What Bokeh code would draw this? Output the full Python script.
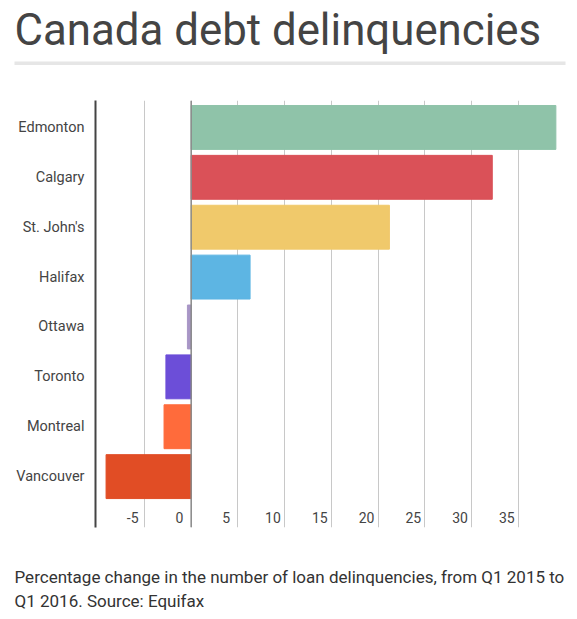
from bokeh.plotting import figure
from bokeh.layouts import column
from bokeh.models import (Range1d, FixedTicker, LinearAxis, Label, BoxAnnotation,
                          ColumnDataSource, Span)
from bokeh.embed import file_html
from bokeh.resources import INLINE

cities = ["Edmonton", "Calgary", "St. John's", "Halifax", "Ottawa", "Toronto", "Montreal", "Vancouver"]
changes = [39.0, 32.2, 21.2, 6.3, -0.4, -2.7, -2.9, -9.1]
colors = ["#8fc3a9", "#da5158", "#f0c96b", "#5db5e3", "#a896c6", "#6c4ed8", "#ff6b3b", "#e14d25"]
tick_values = [-5, 0, 5, 10, 15, 20, 25, 30, 35]
tick_labels = ["-5", "0", "5", "10", "15", "20", "25", "30", "35"]

TITLE = "Canada debt delinquencies"
CAPTION = ["Percentage change in the number of loan delinquencies, from Q1 2015 to",
           "Q1 2016. Source: Equifax"]

FONT = "Roboto"
W = 569


def blank(height):
    f = figure(width=W, height=height, output_backend="svg", toolbar_location=None,
               x_range=Range1d(0, W), y_range=Range1d(height, 0),
               min_border=0, x_axis_location=None, y_axis_location=None)
    f.outline_line_color = None
    f.grid.visible = False
    f.frame_align = False
    return f


# ---- header: title + rule
top = blank(100)
top.add_layout(Label(x=14, y=29.5, text=TITLE, text_font=FONT, text_font_size="43.8px",
                     text_color="#444444", text_baseline="alphabetic"))
top.add_layout(BoxAnnotation(left=14, right=565, top=61, bottom=64.5,
                             fill_color="#e6e6e6", fill_alpha=1, line_color=None))

# ---- main chart
pos = list(range(len(cities)))
src = ColumnDataSource(dict(city=cities, y=pos, change=changes, color=colors))

p = figure(width=W, height=450, output_backend="svg", toolbar_location=None,
           x_range=Range1d(-10.23, 40.03), y_range=Range1d(8.02, -0.54),
           min_border_left=95, min_border_right=4, min_border_top=0, min_border_bottom=23,
           x_axis_location=None, y_axis_location="left")
p.outline_line_color = None
p.frame_align = False

p.hbar(y="y", left=0, right="change", height=0.88, color="color", source=src)

p.xgrid.ticker = FixedTicker(ticks=tick_values)
p.xgrid.grid_line_color = "#c8c8c8"
p.xgrid.grid_line_width = 1
p.ygrid.visible = False
p.add_layout(Span(location=0, dimension="height", line_color="#8a8a8a", line_width=1.5))

yax = p.yaxis[0]
yax.ticker = FixedTicker(ticks=pos)
yax.major_label_overrides = {i: c for i, c in zip(pos, cities)}
yax.axis_line_color = "#444444"
yax.axis_line_width = 2
yax.major_tick_line_color = None
yax.minor_tick_line_color = None
yax.major_label_standoff = 5
yax.major_label_text_font = FONT
yax.major_label_text_font_size = "14.5px"
yax.major_label_text_color = "#444444"

p.extra_x_ranges = {"lbl": Range1d(-10.23 + 1.25, 40.03 + 1.25)}
xax = LinearAxis(x_range_name="lbl", ticker=FixedTicker(ticks=tick_values),
                 major_label_overrides={v: t for v, t in zip(tick_values, tick_labels)},
                 axis_line_color=None, major_tick_line_color=None, minor_tick_line_color=None,
                 major_label_standoff=-22,
                 major_label_text_font=FONT, major_label_text_font_size="14px",
                 major_label_text_color="#444444")
p.add_layout(xax, "below")

# ---- caption
bottom = blank(65)
for i, line in enumerate(CAPTION):
    bottom.add_layout(Label(x=14, y=26.3 + 24 * i, text=line, text_font=FONT,
                            text_font_size="17px", text_color="#333333",
                            text_baseline="alphabetic"))

layout = column(top, p, bottom, spacing=0)
open("out.html", "w").write(file_html(layout, INLINE))
